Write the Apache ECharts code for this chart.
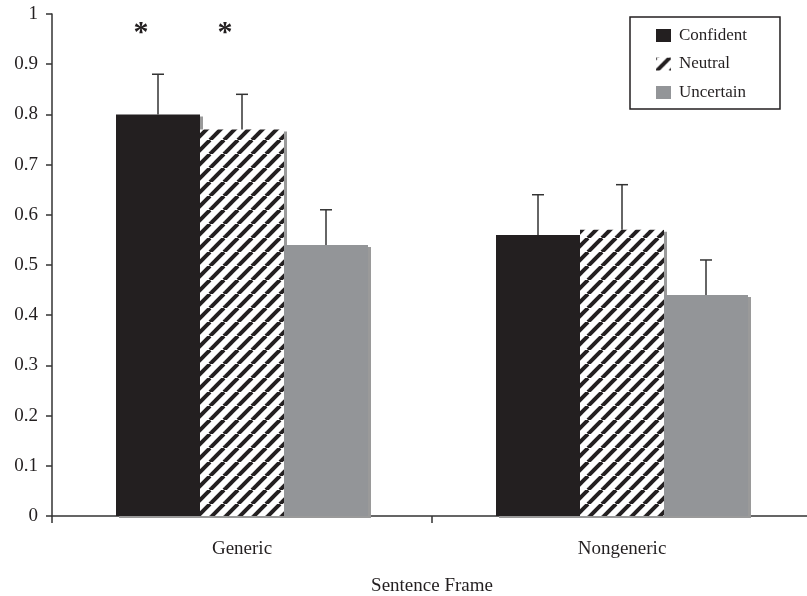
<!DOCTYPE html>
<html>
<head>
<meta charset="utf-8">
<script src="https://cdn.jsdelivr.net/npm/echarts@6/dist/echarts.min.js"></script>
<style>
html,body{margin:0;padding:0;background:#fff;}
#chart{width:807px;height:596px;}
</style>
</head>
<body>
<div id="chart"></div>
<script>
// ---- data ----
const categories = ['Generic', 'Nongeneric'];
const seriesNames = ['Confident', 'Neutral', 'Uncertain'];
const confident = [0.80, 0.56];
const neutral = [0.77, 0.57];
const uncertain = [0.54, 0.44];
const confidentErrTop = [0.88, 0.64];
const neutralErrTop = [0.84, 0.66];
const uncertainErrTop = [0.61, 0.51];
// significance markers: [categoryIndex, seriesIndex]
const significant = [[0, 0], [0, 1]];
const yTickLabels = ['0','0.1','0.2','0.3','0.4','0.5','0.6','0.7','0.8','0.9','1'];

const BLACK = '#231f20';
const GRAY = '#939598';
const FONT = 'Liberation Serif';
const BAR_W = 84;

const values = [confident, neutral, uncertain];
const errTops = [confidentErrTop, neutralErrTop, uncertainErrTop];
const errData = [];
values.forEach((arr, s) => arr.forEach((v, c) => errData.push([c, s, v, errTops[s][c]])));

// diagonal "/" hatch tile
function makeHatch(P, w) {
  const cv = document.createElement('canvas');
  cv.width = P; cv.height = P;
  const ctx = cv.getContext('2d');
  ctx.fillStyle = '#ffffff';
  ctx.fillRect(0, 0, P, P);
  ctx.strokeStyle = BLACK;
  ctx.lineWidth = w;
  for (let k = -1; k <= 1; k++) {
    ctx.beginPath();
    ctx.moveTo(k * P, P);
    ctx.lineTo(k * P + P, 0);
    ctx.stroke();
  }
  return cv;
}
const hatch = {image: makeHatch(14, 4), repeat: 'repeat'};

const shadow = {shadowColor: '#9a9a9a', shadowBlur: 0, shadowOffsetX: 3, shadowOffsetY: 2};

const chart = echarts.init(document.getElementById('chart'), null, {renderer: 'canvas'});
chart.setOption({
  animation: false,
  backgroundColor: '#fff',
  textStyle: {fontFamily: FONT, color: '#231f20'},
  grid: {left: 52, right: -5, top: 14, bottom: 80, containLabel: false, outerBoundsMode: 'none'},
  legend: {
    orient: 'vertical',
    left: 630, top: 17,
    padding: [10, 33, 8, 26],
    itemGap: 11.5,
    icon: 'rect',
    itemWidth: 15, itemHeight: 13,
    borderColor: '#231f20', borderWidth: 1.5,
    textStyle: {fontFamily: FONT, fontSize: 17, color: '#231f20', padding: [0, 0, 0, 3]},
    data: seriesNames
  },
  xAxis: {
    type: 'category',
    data: categories,
    name: 'Sentence Frame',
    nameLocation: 'middle',
    nameGap: 61,
    nameTextStyle: {fontFamily: FONT, fontSize: 19, color: '#231f20'},
    axisLine: {lineStyle: {color: '#333', width: 1.5}},
    axisTick: {show: true, length: 7, lineStyle: {color: '#333', width: 1.5}},
    axisLabel: {fontFamily: FONT, fontSize: 19, color: '#231f20', margin: 24}
  },
  yAxis: {
    type: 'value',
    min: 0, max: 1, interval: 0.1,
    axisLine: {show: true, lineStyle: {color: '#333', width: 1.5}},
    axisTick: {show: true, length: 6, lineStyle: {color: '#333', width: 1.5}},
    splitLine: {show: false},
    axisLabel: {
      fontFamily: FONT, fontSize: 19, color: '#231f20', margin: 14,
      formatter: v => yTickLabels[Math.round(v * 10)]
    }
  },
  series: [
    {
      name: 'Confident', type: 'bar', data: confident, barWidth: BAR_W, barGap: 0,
      itemStyle: Object.assign({color: BLACK}, shadow)
    },
    {
      name: 'Neutral', type: 'bar', data: neutral, barWidth: BAR_W, barGap: 0,
      itemStyle: Object.assign({color: hatch}, shadow)
    },
    {
      name: 'Uncertain', type: 'bar', data: uncertain, barWidth: BAR_W, barGap: 0,
      itemStyle: Object.assign({color: GRAY}, shadow)
    },
    {
      type: 'custom', name: 'err', z: 5, silent: true,
      data: errData,
      renderItem: function (params, api) {
        const c = api.value(0), s = api.value(1), v = api.value(2), t = api.value(3);
        const x = api.coord([c, 0])[0] + (s - 1) * BAR_W;
        const yb = api.coord([c, v])[1];
        const yt = api.coord([c, t])[1];
        const st = {stroke: '#333', lineWidth: 1.5};
        return {type: 'group', children: [
          {type: 'line', shape: {x1: x, y1: yb, x2: x, y2: yt}, style: st},
          {type: 'line', shape: {x1: x - 6, y1: yt, x2: x + 6, y2: yt}, style: st}
        ]};
      }
    },
    {
      type: 'custom', name: 'sig', z: 5, silent: true,
      data: significant,
      renderItem: function (params, api) {
        const c = api.value(0), s = api.value(1);
        const x = api.coord([c, 0])[0] + (s - 1) * BAR_W - 17;
        const y = api.coord([c, 0.974])[1];
        return {type: 'text', style: {
          text: '*', x: x, y: y + 6, fontFamily: FONT, fontSize: 30, fontWeight: 'bold',
          fill: '#231f20', align: 'center', verticalAlign: 'middle'
        }};
      }
    }
  ]
});
</script>
</body>
</html>
